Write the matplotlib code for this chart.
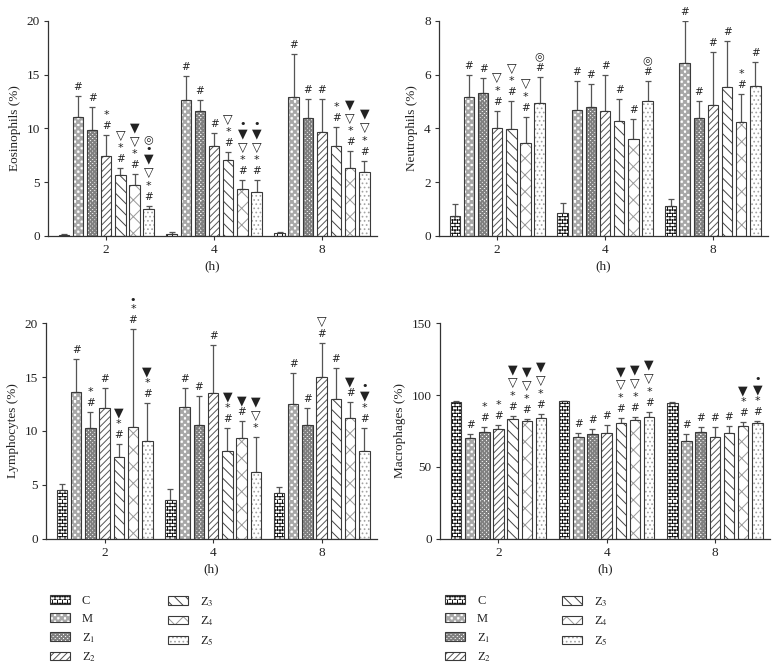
import warnings
import numpy as np
import matplotlib
matplotlib.use('Agg')
import matplotlib.pyplot as plt
import matplotlib.hatch as mhatch
from matplotlib.path import Path

warnings.filterwarnings('ignore', message='hatch must consist')

hours = ['2', '4', '8']
groups = ['C', 'M', 'Z$_1$', 'Z$_2$', 'Z$_3$', 'Z$_4$', 'Z$_5$']

# rows = groups (C, M, Z1..Z5), columns = 2 h, 4 h, 8 h
eos_mean = [[0.08, 0.2, 0.3], [11.1, 12.6, 12.95], [9.85, 11.6, 11.0], [7.45, 8.4, 9.7],
            [5.7, 7.1, 8.4], [4.75, 4.4, 6.3], [2.5, 4.1, 5.9]]
eos_sd = [[0.08, 0.15, 0.1], [1.9, 2.3, 3.95], [2.15, 1.0, 1.7], [1.95, 1.2, 3.0],
          [0.6, 0.7, 1.75], [1.0, 0.8, 1.55], [0.3, 1.1, 1.1]]
eos_marks = [['', '', ''], ['#', '#', '#'], ['#', '#', '#'], ['#*', '#', '#'],
             ['#*▽', '#*▽', '#*'], ['#*▽▼', '#*▽▼•', '#*▽▼'], ['#*▽▼•◎', '#*▽▼•', '#*▽▼']]

neu_mean = [[0.75, 0.87, 1.13], [5.18, 4.7, 6.42], [5.3, 4.78, 4.4], [4.0, 4.63, 4.87],
            [3.97, 4.28, 5.52], [3.47, 3.6, 4.24], [4.93, 5.0, 5.58]]
neu_sd = [[0.45, 0.35, 0.23], [0.82, 1.07, 1.58], [0.57, 0.87, 0.6], [0.65, 1.37, 1.98],
          [1.03, 0.82, 1.73], [0.96, 0.73, 1.04], [0.99, 0.75, 0.88]]
neu_marks = [['', '', ''], ['#', '#', '#'], ['#', '#', '#'], ['#*▽', '#', '#'],
             ['#*▽', '#', '#'], ['#*▽', '#', '#*'], ['#◎', '#◎', '#']]

lym_mean = [[4.5, 3.56, 4.27], [13.65, 12.26, 12.5], [10.3, 10.56, 10.56], [12.17, 13.56, 15.05],
            [7.6, 8.11, 12.97], [10.37, 9.38, 11.2], [9.04, 6.16, 8.11]]
lym_sd = [[0.55, 1.08, 0.5], [3.0, 1.7, 2.92], [1.5, 2.72, 1.54], [1.79, 4.46, 3.09],
          [1.2, 2.17, 2.85], [9.07, 1.52, 1.5], [3.53, 3.25, 2.2]]
lym_marks = [['', '', ''], ['#', '#', '#'], ['#*', '#', '#'], ['#', '#', '#▽'],
             ['#*▼', '#*▼', '#'], ['#*•', '#▼', '#▼'], ['#*▼', '*▽▼', '#*▼•']]

mac_mean = [[95.0, 95.7, 94.6], [70.3, 70.6, 68.2], [74.5, 72.9, 74.3], [76.6, 73.6, 70.8],
            [83.4, 80.6, 73.6], [81.8, 82.9, 78.5], [84.1, 84.8, 80.6]]
mac_sd = [[0.7, 0.5, 0.4], [2.8, 3.2, 4.9], [3.5, 3.5, 3.5], [2.8, 5.6, 6.8],
          [2.1, 3.5, 4.7], [1.8, 2.1, 2.8], [3.0, 3.5, 1.4]]
mac_marks = [['', '', ''], ['#', '#', '#'], ['#*', '#', '#'], ['#*', '#', '#'],
             ['#*▽▼', '#*▽▼', '#'], ['#*▽▼', '#*▽▼', '#*▼'], ['#*▽▼', '#*▽▼', '#*▼•']]


# extra hatch patterns: brick wall for C and checkerboard for M / Z1
class BrickHatch(mhatch.HatchPatternBase):
    def __init__(self, hatch, density):
        self.rows = hatch.count('b') * density
        self.cols = self.rows * 2 // 3
        self.num_vertices = (self.rows + self.rows * self.cols) * 2

    def set_vertices_and_codes(self, vertices, codes):
        pts = []
        for i in range(self.rows):
            y0, y1 = i / self.rows, (i + 1) / self.rows
            pts += [(0, y0), (1, y0)]
            shift = 0.5 * (i % 2)
            for j in range(self.cols):
                x = (j + shift) / self.cols
                pts += [(x, y0), (x, y1)]
        vertices[:] = pts
        codes[0::2] = Path.MOVETO
        codes[1::2] = Path.LINETO


class CheckerHatch(mhatch.HatchPatternBase):
    def __init__(self, hatch, density):
        self.n = hatch.count('k') * density
        self.num_vertices = self.n * (self.n // 2) * 5

    def set_vertices_and_codes(self, vertices, codes):
        s = 1.0 / self.n
        sq = np.array([[0, 0], [1, 0], [1, 1], [0, 1], [0, 0]]) * s
        k = 0
        for i in range(self.n):
            for j in range(i % 2, self.n, 2):
                vertices[k:k + 5] = sq + [j * s, i * s]
                codes[k:k + 5] = [Path.MOVETO, Path.LINETO, Path.LINETO, Path.LINETO, Path.CLOSEPOLY]
                k += 5


mhatch._hatch_types += [BrickHatch, CheckerHatch]

plt.rcParams['font.family'] = ['Liberation Serif', 'DejaVu Sans']
plt.rcParams['mathtext.fontset'] = 'stix'
plt.rcParams['hatch.linewidth'] = 0.7

hatches = ['bbbbb', 'kkkkk', 'kkkkkkkk', '/////', '\\\\\\', 'xx', '....']
hatch_colors = ['#111111', '#a8a8a8', '#808080', '#555555', '#444444', '#999999', '#a3a3a3']
edge = '#3a3a3a'
txt = '#222222'

sym_fs = {'#': 7.5, '*': 8, '▽': 9, '▼': 9, '•': 8, '◎': 8}
sym_h = {'#': 11, '*': 11, '▽': 15, '▼': 12, '•': 8, '◎': 12}

step = 0.131
width = 0.097


def add_marks(ax, x, top, marks):
    pos = 9.0
    prev = None
    for s in marks:
        if prev is not None:
            pos += (sym_h[prev] + sym_h[s]) / 2
        ax.annotate(s, (x, top), xytext=(0, pos * 0.72), textcoords='offset points',
                    ha='center', va='center', fontsize=sym_fs[s], family=['DejaVu Sans'], color=txt)
        prev = s


def draw_panel(ax, means, sds, marks, ylabel, ymax, ystep):
    xg = np.arange(len(hours))
    for i, name in enumerate(groups):
        x = xg + (i - 3) * step
        bars = ax.bar(x, means[i], width, color='white', edgecolor=edge, linewidth=0.8,
                      hatch=hatches[i], label=name, zorder=2)
        for p in bars.patches:
            p._hatch_color = matplotlib.colors.to_rgba(hatch_colors[i])
        ax.errorbar(x, means[i], yerr=[np.zeros(len(hours)), sds[i]], fmt='none',
                    ecolor='#555555', elinewidth=0.9, capsize=2.5, capthick=0.9, zorder=1)
        for k in range(len(hours)):
            add_marks(ax, x[k], means[i][k] + sds[i][k], marks[i][k])
    ax.set_xlim(-0.54, 2.51)
    ax.set_ylim(0, ymax)
    ax.set_yticks(np.arange(0, ymax + 0.1, ystep))
    ax.set_xticks(xg)
    ax.set_xticklabels(hours)
    ax.set_xlabel('(h)', fontsize=9.5, color=txt, labelpad=3)
    ax.set_ylabel(ylabel, fontsize=9.5, color=txt, labelpad=4)
    for side in ['top', 'right']:
        ax.spines[side].set_visible(False)
    for side in ['left', 'bottom']:
        ax.spines[side].set_color('#333333')
        ax.spines[side].set_linewidth(0.9)
    ax.tick_params(direction='out', length=3, width=0.8, color='#333333',
                   labelsize=9.5, labelcolor=txt, pad=3)


fig = plt.figure(figsize=(7.78, 6.69), dpi=100)
ax1 = fig.add_axes([48 / 778, 433 / 669, 329 / 778, 215.3 / 669])
ax2 = fig.add_axes([439 / 778, 433 / 669, 329 / 778, 215.3 / 669])
ax3 = fig.add_axes([46 / 778, 130.3 / 669, 331 / 778, 215.4 / 669])
ax4 = fig.add_axes([440 / 778, 130.3 / 669, 330 / 778, 215.4 / 669])

draw_panel(ax1, eos_mean, eos_sd, eos_marks, 'Eosinophils (%)', 20, 5)
draw_panel(ax2, neu_mean, neu_sd, neu_marks, 'Neutrophils (%)', 8, 2)
draw_panel(ax3, lym_mean, lym_sd, lym_marks, 'Lymphocytes (%)', 20, 5)
draw_panel(ax4, mac_mean, mac_sd, mac_marks, 'Macrophages (%)', 150, 50)

# legends under each column, two columns each
for ax, x1, x2 in [(ax3, 50, 168), (ax4, 445, 562)]:
    h, l = ax.get_legend_handles_labels()
    for hs, ls, xl in [(h[:4], l[:4], x1), (h[4:], l[4:], x2)]:
        leg = fig.legend(hs, ls, loc='upper left', bbox_to_anchor=(xl / 778, 1 - 595 / 669),
                         frameon=False, fontsize=9, borderpad=0, borderaxespad=0,
                         handlelength=1.6, handleheight=0.65, handletextpad=0.96,
                         labelspacing=0.47)
        for t in leg.get_texts():
            t.set_color(txt)

fig.savefig('out.png', dpi=100)
